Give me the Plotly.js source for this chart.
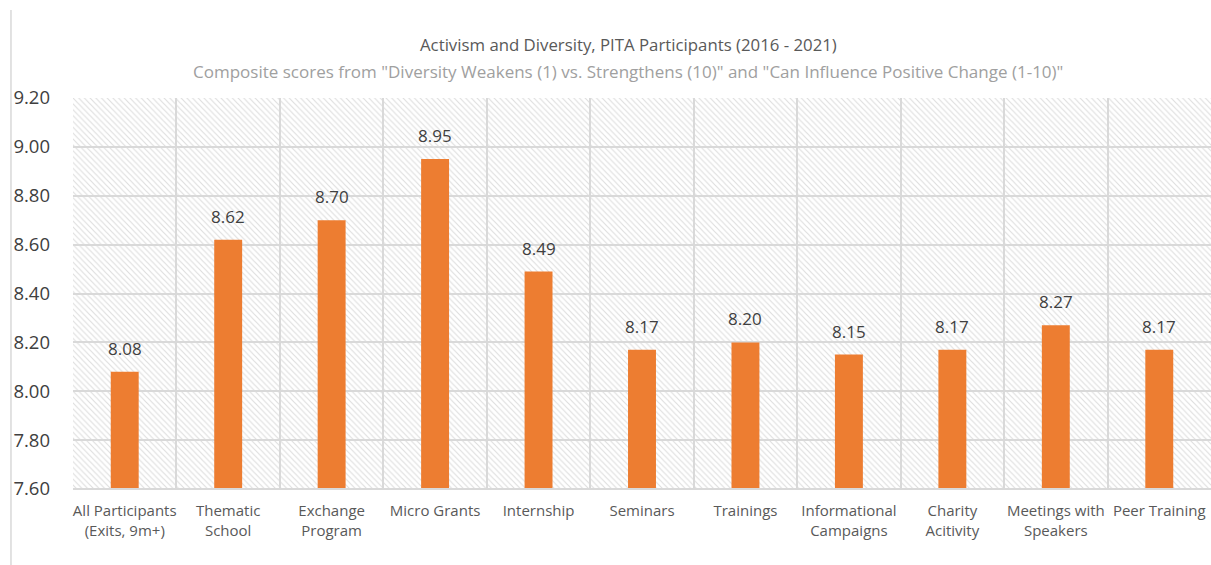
<!DOCTYPE html>
<html>
<head>
<meta charset="utf-8">
<script src="https://cdn.plot.ly/plotly-3.0.1.min.js"></script>
<style>html,body{margin:0;padding:0;background:#fff;}#chart{width:1211px;height:565px;}</style>
</head>
<body>
<div id="chart"></div>
<script>
var categories = [
  "All Participants<br>(Exits, 9m+)",
  "Thematic<br>School",
  "Exchange<br>Program",
  "Micro Grants",
  "Internship",
  "Seminars",
  "Trainings",
  "Informational<br>Campaigns",
  "Charity<br>Acitivity",
  "Meetings with<br>Speakers",
  "Peer Training"
];
var scores = [8.08, 8.62, 8.70, 8.95, 8.49, 8.17, 8.20, 8.15, 8.17, 8.27, 8.17];
var yTicks = [7.6, 7.8, 8.0, 8.2, 8.4, 8.6, 8.8, 9.0, 9.2];
var titleText = "Activism and Diversity, PITA Participants (2016 - 2021)";
var subtitleText = "Composite scores from \"Diversity Weakens (1) vs. Strengthens (10)\" and \"Can Influence Positive Change (1-10)\"";

var FONT = "Open Sans, Noto Sans, sans-serif";

// hatch background pattern
var svg = '<svg xmlns="http://www.w3.org/2000/svg" width="1200" height="400">' +
  '<defs><pattern id="h" patternUnits="userSpaceOnUse" width="6" height="6">' +
  '<path d="M-1,-1 L7,7 M-7,-1 L1,7 M5,-1 L13,7" stroke="#dedede" stroke-width="1.2"/>' +
  '</pattern></defs><rect width="1200" height="400" fill="#fff"/><rect width="1200" height="400" fill="url(#h)"/></svg>';
var svgUri = "data:image/svg+xml;base64," + btoa(svg);

var trace = {
  type: "bar",
  x: categories,
  y: scores,
  width: 0.27,
  marker: {color: "#ED7D31"},
  hoverinfo: "x+y"
};

var labelAnns = categories.map(function (c, i) {
  return {
    x: c, y: scores[i], xref: "x", yref: "y",
    text: scores[i].toFixed(2),
    showarrow: false, yanchor: "bottom", yshift: 10,
    font: {family: FONT, size: 17, color: "#404040"}
  };
});

var layout = {
  width: 1211, height: 565,
  margin: {l: 73, r: 0, t: 98, b: 76},
  paper_bgcolor: "#ffffff",
  plot_bgcolor: "rgba(0,0,0,0)",
  showlegend: false,
  bargap: 0.73,
  xaxis: {
    type: "category",
    tickson: "boundaries",
    tickangle: 0,
    showgrid: true, gridcolor: "#d9d9d9", gridwidth: 2,
    showline: false, zeroline: false,
    ticks: "",
    tickfont: {family: FONT, size: 15, color: "#595959"},
    ticklabelstandoff: 11
  },
  yaxis: {
    range: [7.6, 9.2],
    tickvals: yTicks,
    ticktext: yTicks.map(function (v) { return v.toFixed(2); }),
    showgrid: true, gridcolor: "#d9d9d9", gridwidth: 2,
    zeroline: false, showline: false, ticks: "",
    tickfont: {family: FONT, size: 18.5, color: "#404040"},
    ticklabelstandoff: 22
  },
  images: [{
    source: svgUri, xref: "paper", yref: "paper",
    x: 0, y: 1, sizex: 1, sizey: 1, sizing: "stretch",
    xanchor: "left", yanchor: "top", layer: "below"
  }],
  shapes: [
    {type: "line", xref: "paper", yref: "paper", x0: 0, x1: 1, y0: 0, y1: 0,
     line: {color: "#d9d9d9", width: 2}},
    {type: "line", xref: "paper", yref: "paper", x0: -0.0545, x1: -0.0545, y0: -0.2, y1: 1.225,
     line: {color: "#d9d9d9", width: 1.5}}
  ],
  annotations: [
    {text: titleText, xref: "paper", yref: "paper", x: 0.488, y: 1, yshift: 54,
     yanchor: "middle", xanchor: "center", showarrow: false,
     font: {family: FONT, size: 16.8, color: "#595959"}},
    {text: subtitleText, xref: "paper", yref: "paper", x: 0.488, y: 1, yshift: 27,
     yanchor: "middle", xanchor: "center", showarrow: false,
     font: {family: FONT, size: 17, color: "#a0a0a0"}}
  ].concat(labelAnns)
};

Plotly.newPlot("chart", [trace], layout, {displayModeBar: false, staticPlot: true});
</script>
</body>
</html>
